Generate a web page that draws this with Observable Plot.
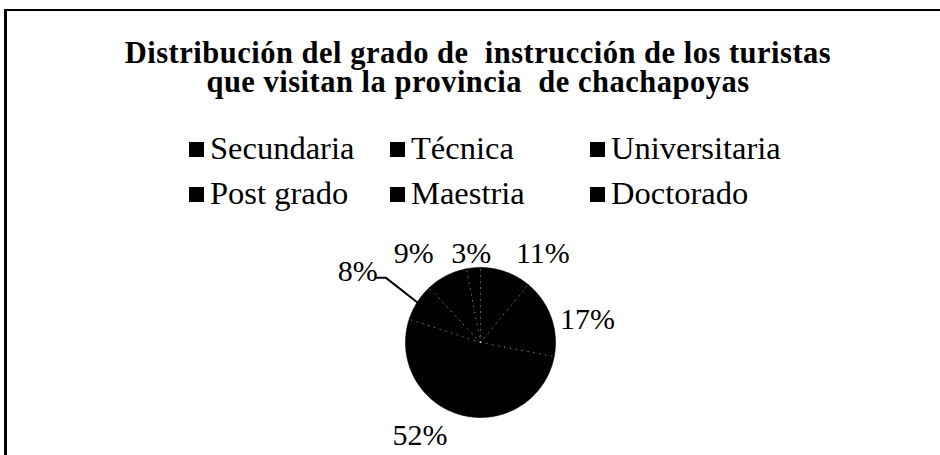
<!DOCTYPE html>
<html><head><meta charset="utf-8">
<script src="https://cdn.jsdelivr.net/npm/d3@7"></script>
<script src="https://cdn.jsdelivr.net/npm/@observablehq/plot@0.6"></script>
<style>
html,body{margin:0;padding:0;background:#fff;}
body{width:940px;height:455px;position:relative;overflow:hidden;font-family:"Liberation Serif","Times New Roman",serif;color:#000;}
#frame{position:absolute;left:4px;top:9px;width:1000px;height:500px;border-top:2px solid #000;border-left:3px solid #000;box-sizing:border-box;}
#title{position:absolute;left:0;width:956px;top:39px;text-align:center;font-weight:bold;font-size:30.5px;line-height:29px;letter-spacing:0.5px;white-space:pre;}
#legend{position:absolute;left:189px;top:126px;display:grid;grid-template-columns:201px 200px auto;font-size:32.5px;line-height:45px;white-space:nowrap;}
.sw{display:inline-block;width:15px;height:15px;background:#000;margin-right:6px;margin-bottom:2px;vertical-align:baseline;}
#chart{position:absolute;left:0;top:220px;}
</style></head><body>
<div id="frame"></div>
<div id="title"></div>
<div id="legend"></div>
<div id="chart"></div>
<script>
// ---- data ----
const titleLines = ["Distribución del grado de  instrucción de los turistas", "que visitan la provincia  de chachapoyas"];
const categories = ["Secundaria", "Técnica", "Universitaria", "Post grado", "Maestria", "Doctorado"];
const percents = [11, 17, 52, 8, 9, 3];
const labels = ["11%", "17%", "52%", "8%", "9%", "3%"];

// ---- label layout (Excel "best fit"): angle clockwise from 12 o'clock (deg), distance in pie radii ----
const labelAngle = [35, 78, 213, 300, 323, 354];
const labelDist = [1.45, 1.46, 1.48, 1.89, 1.48, 1.19];
const hasLeader = [false, false, false, true, false, false];

// ---- title & legend ----
const t = document.getElementById("title");
t.textContent = titleLines.join("\n");
const lg = document.getElementById("legend");
categories.forEach(c => {
  const d = document.createElement("div");
  const s = document.createElement("span"); s.className = "sw";
  d.appendChild(s);
  d.appendChild(document.createTextNode(c));
  lg.appendChild(d);
});

// ---- pie geometry ----
const W = 940, H = 235, R = 75, CX = 480, CY = 122;
const total = d3.sum(percents);
let acc = 0;
const slices = categories.map((c, i) => {
  const a0 = acc / total * 360; acc += percents[i]; const a1 = acc / total * 360;
  return {c, a0, a1, mid: (a0 + a1) / 2};
});
const rad = d => d * Math.PI / 180;
const pt = (deg, r) => ({x: r * Math.sin(rad(deg)), y: r * Math.cos(rad(deg))});
const polys = slices.flatMap(s => {
  const n = Math.max(2, Math.ceil(s.a1 - s.a0));
  const pts = [{x: 0, y: 0, c: s.c}];
  for (let k = 0; k <= n; k++) pts.push({...pt(s.a0 + (s.a1 - s.a0) * k / n, 1), c: s.c});
  pts.push({x: 0, y: 0, c: s.c});
  return pts;
});
const bounds = slices.map(s => { const p = pt(s.a0, 1); return {x1: 0, y1: 0, x2: p.x, y2: p.y}; });
const labelData = slices.map((s, i) => ({...pt(labelAngle[i], labelDist[i]), text: labels[i]}));
const leaders = slices.flatMap((s, i) => {
  if (!hasLeader[i]) return [];
  const p = labelData[i];
  const half = labels[i].length * 0.33 * 30 / 2;
  const x0 = p.x + (half + 8) / R, y0 = p.y - 6 / R;
  const e = pt(s.mid, 1);
  return [{x: x0, y: y0, c: s.c}, {x: x0 + 10 / R, y: y0, c: s.c}, {x: e.x, y: e.y, c: s.c}];
});

const chart = Plot.plot({
  width: W, height: H, margin: 0,
  style: {background: "transparent", fontFamily: "Liberation Serif, serif"},
  x: {domain: [-CX / R, (W - CX) / R], axis: null},
  y: {domain: [-(H - CY) / R, CY / R], axis: null},
  marks: [
    Plot.line(polys, {x: "x", y: "y", z: "c", fill: "#000", stroke: "#000", strokeWidth: 0.6, curve: "linear"}),
    Plot.link(bounds, {x1: "x1", y1: "y1", x2: "x2", y2: "y2", stroke: "#fff", strokeWidth: 0.7, strokeDasharray: "1,5", strokeOpacity: 0.85}),
    Plot.line(leaders, {x: "x", y: "y", z: "c", stroke: "#000", strokeWidth: 2, curve: "linear"}),
    Plot.text(labelData, {x: "x", y: "y", text: "text", fontSize: 30, fill: "#000"})
  ]
});
document.getElementById("chart").appendChild(chart);
</script>
</body></html>
